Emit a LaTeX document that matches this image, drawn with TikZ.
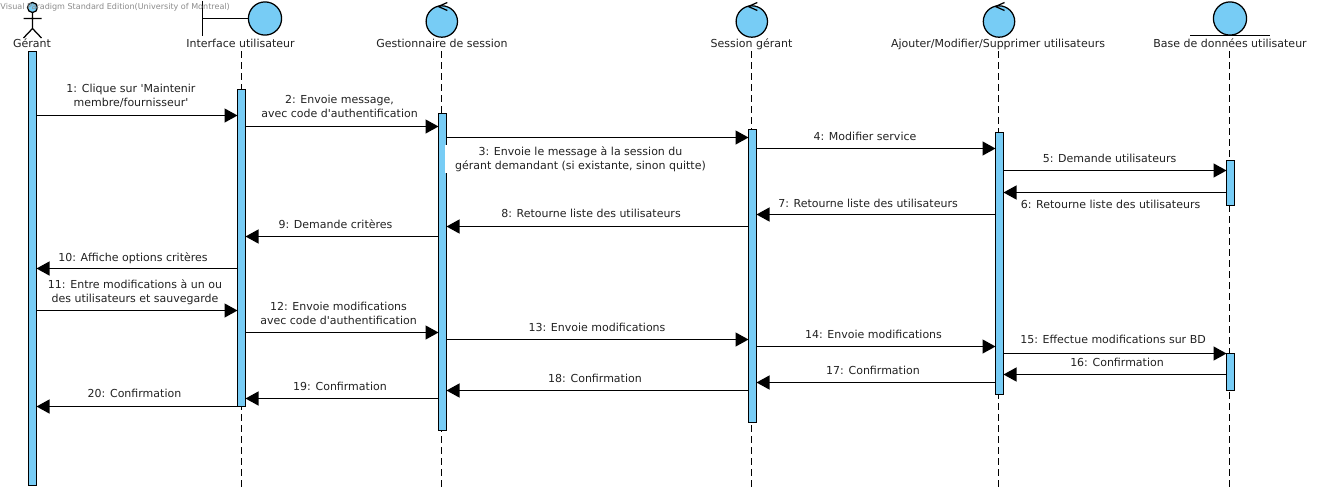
\documentclass[tikz,border=0pt]{standalone}
\usepackage{fontspec}
\newfontfamily\dvs{DejaVu Sans}
\usetikzlibrary{arrows.meta}
\definecolor{vpblue}{HTML}{77CCF5}
\definecolor{txt}{HTML}{222222}
\tikzset{
  x=1pt,y=-1pt,
  every node/.style={font=\dvs\fontsize{11}{14}\selectfont,text=txt,inner sep=0pt,outer sep=0pt,align=center},
  shapeline/.style={draw=black,line width=1.25pt,fill=vpblue},
  glyph/.style={draw=black,line width=1.25pt},
  lifeline/.style={draw=black,line width=1.2pt,dash pattern=on 7pt off 4pt},
  bar/.style={draw=black,line width=1.25pt,fill=vpblue,minimum width=8pt,anchor=north,rectangle},
  msg/.style={draw=black,line width=1.25pt,-{Triangle[length=13pt,width=14pt,fill=black]}},
  head/.style={text height=8pt,text depth=2pt,anchor=center},
  lab/.style={anchor=center},
}
\begin{document}
\begin{tikzpicture}
\useasboundingbox (0,0) rectangle (1324,490);
\fill[white] (0,0) rectangle (1324,490);
% lifeline labels
\node[head] (hG) at (32,44.5) {Gérant};
\node[head] (hI) at (240.5,44.5) {Interface utilisateur};
\node[head] (hM) at (442,44.5) {Gestionnaire de session};
\node[head] (hS) at (751.5,44.5) {Session gérant};
\node[head] (hA) at (998,44.5) {Ajouter/Modifier/Supprimer utilisateurs};
\node[head] (hB) at (1230,44.5) {Base de données utilisateur};
% lifelines
\draw[lifeline] (241.5,51) -- (241.5,490);
\draw[lifeline] (441.5,51) -- (441.5,490);
\draw[lifeline] (751.5,51) -- (751.5,490);
\draw[lifeline] (998.5,51) -- (998.5,490);
\draw[lifeline] (1229.5,51) -- (1229.5,490);
% actor
\draw[shapeline] (32.5,7.5) circle[radius=5];
\draw[glyph] (23.5,18.5) -- (41.5,18.5) (32.5,12.5) -- (32.5,28.5) -- (23.5,38) (32.5,28.5) -- (41.5,38);
% boundary
\draw[glyph] (202.5,0.5) -- (202.5,35.5) (202.5,18.5) -- (249,18.5);
\draw[shapeline] (265,18.5) circle[radius=16.6];
% controls
\foreach \c in {441.8,751.8,999}{
  \draw[shapeline] (\c,21.5) circle[radius=15.7];
  \draw[glyph] (\c+5.5,2.5) -- (\c-3.5,6.5) -- (\c+5.5,10.5);
}
% entity
\draw[shapeline] (1230,18.5) circle[radius=16.6];
\draw[glyph] (1190,35.5) -- (1270,35.5);
% activation bars
\node[bar,minimum height=434pt] (bG) at (32.5,51.5) {};
\node[bar,minimum height=317pt] (bI) at (241.5,89.5) {};
\node[bar,minimum height=317pt] (bM) at (442.5,113.5) {};
\node[bar,minimum height=293pt] (bS) at (752.5,129.5) {};
\node[bar,minimum height=262pt] (bA) at (999.5,132.5) {};
\node[bar,minimum height=45pt] (bB1) at (1230.5,160.5) {};
\node[bar,minimum height=37pt] (bB2) at (1230.5,353.5) {};
% messages
\draw[msg] (bG.east |- 0,115.5) -- (bI.west |- 0,115.5);
\draw[msg] (bI.east |- 0,126.5) -- (bM.west |- 0,126.5);
\draw[msg] (bM.east |- 0,137.5) -- (bS.west |- 0,137.5);
\draw[msg] (bS.east |- 0,148.5) -- (bA.west |- 0,148.5);
\draw[msg] (bA.east |- 0,170.5) -- (bB1.west |- 0,170.5);
\draw[msg] (bB1.west |- 0,192.5) -- (bA.east |- 0,192.5);
\draw[msg] (bA.west |- 0,214.5) -- (bS.east |- 0,214.5);
\draw[msg] (bS.west |- 0,226.5) -- (bM.east |- 0,226.5);
\draw[msg] (bM.west |- 0,236.5) -- (bI.east |- 0,236.5);
\draw[msg] (bI.west |- 0,268.5) -- (bG.east |- 0,268.5);
\draw[msg] (bG.east |- 0,310.5) -- (bI.west |- 0,310.5);
\draw[msg] (bI.east |- 0,332.5) -- (bM.west |- 0,332.5);
\draw[msg] (bM.east |- 0,339.5) -- (bS.west |- 0,339.5);
\draw[msg] (bS.east |- 0,346.5) -- (bA.west |- 0,346.5);
\draw[msg] (bA.east |- 0,353.5) -- (bB2.west |- 0,353.5);
\draw[msg] (bB2.west |- 0,374.5) -- (bA.east |- 0,374.5);
\draw[msg] (bA.west |- 0,382.5) -- (bS.east |- 0,382.5);
\draw[msg] (bS.west |- 0,390.5) -- (bM.east |- 0,390.5);
\draw[msg] (bM.west |- 0,398.5) -- (bI.east |- 0,398.5);
\draw[msg] (bI.west |- 0,406.5) -- (bG.east |- 0,406.5);
% message labels
\node[lab] (m1) at (131,95.5) {1: Clique sur 'Maintenir\\membre/fournisseur'};
\node[lab] (m2) at (339.5,106.5) {2: Envoie message,\\avec code d'authentification};
\node[lab,fill=white,minimum width=271pt,minimum height=28pt] (m3) at (580.5,159) {3: Envoie le message à la session du\\gérant demandant (si existante, sinon quitte)};
\node[lab] (m4) at (865,136) {4: Modifier service};
\node[lab] (m5) at (1109.5,158) {5: Demande utilisateurs};
\node[lab] (m6) at (1110.5,204) {6: Retourne liste des utilisateurs};
\node[lab] (m7) at (868,203) {7: Retourne liste des utilisateurs};
\node[lab] (m8) at (591,213) {8: Retourne liste des utilisateurs};
\node[lab] (m9) at (335.5,224) {9: Demande critères};
\node[lab] (m10) at (133,258) {10: Affiche options critères};
\node[lab] (m11) at (135,292) {11: Entre modifications à un ou\\des utilisateurs et sauvegarde};
\node[lab] (m12) at (338.5,313) {12: Envoie modifications\\avec code d'authentification};
\node[lab] (m13) at (597,327) {13: Envoie modifications};
\node[lab] (m14) at (873.5,334) {14: Envoie modifications};
\node[lab] (m15) at (1113,339) {15: Effectue modifications sur BD};
\node[lab] (m16) at (1117,362) {16: Confirmation};
\node[lab] (m17) at (873,370) {17: Confirmation};
\node[lab] (m18) at (595,378) {18: Confirmation};
\node[lab] (m19) at (340,386) {19: Confirmation};
\node[lab] (m20) at (134.5,393) {20: Confirmation};
% watermark
\node[anchor=west,font=\dvs\fontsize{8.05}{9}\selectfont,text=black!45] (wm) at (0.5,7) {Visual Paradigm Standard Edition(University of Montreal)};
\end{tikzpicture}
\end{document}
